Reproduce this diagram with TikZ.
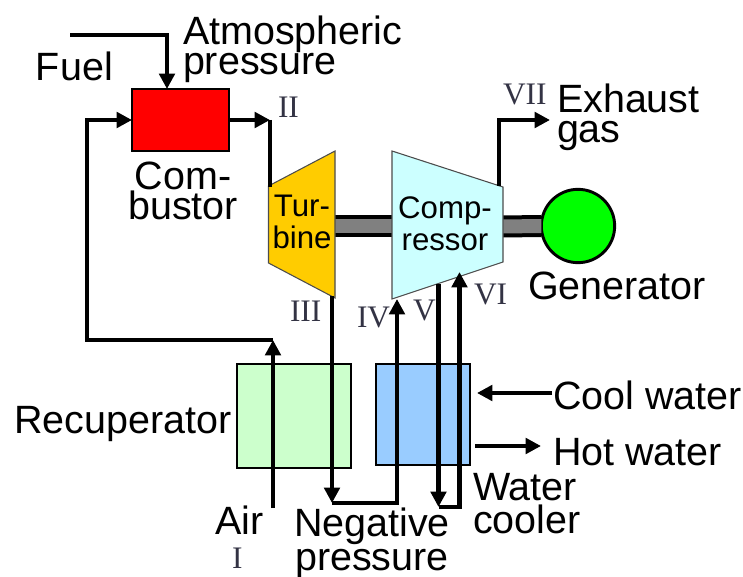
\documentclass[tikz,border=0pt]{standalone}
\usepackage{fontspec}
\setmainfont{Liberation Sans}
\newfontfamily\romanfont{Liberation Serif}
\usetikzlibrary{arrows.meta}
\tikzset{
  pipe/.style={line width=3.6pt,miter limit=10,draw=black},
  flow/.style={pipe,-{Triangle[length=11.5pt,width=11.5pt]}},
  unitbox/.style={draw=black,line width=1.5pt,inner sep=0pt,outer sep=0pt},
  machine/.style={draw=black!70,line width=0.8pt,line join=miter},
  shaftline/.style={draw=black,line width=3pt,double=shaftgray,double distance=10.5pt},
  big/.style={inner sep=0pt,outer sep=0pt,font=\fontsize{29.6}{23.2}\selectfont,text=black,align=left,anchor=base west},
  bigc/.style={big,align=center,anchor=base},
  small/.style={inner sep=0pt,outer sep=0pt,font=\fontsize{23.4}{24.4}\selectfont,text=black,align=center,anchor=base},
  state/.style={inner sep=0pt,outer sep=0pt,font=\romanfont\fontsize{23.5}{24}\selectfont,text=statecol,anchor=base west},
}
\definecolor{shaftgray}{HTML}{808080}
\definecolor{statecol}{HTML}{333344}
\definecolor{turbcol}{HTML}{FFCC00}
\definecolor{compcol}{HTML}{CCFFFF}
\definecolor{recol}{HTML}{CCFFCC}
\definecolor{coolcol}{HTML}{99CCFF}
\begin{document}
\begin{tikzpicture}[x=0.75pt,y=-0.75pt]
\useasboundingbox (0,0) rectangle (743,577);
% named points
\coordinate (tTL) at (268.5,186);
\coordinate (tTR) at (335,151);
\coordinate (tBR) at (335,298);
\coordinate (tBL) at (268.5,263);
\coordinate (cTL) at (392,151);
\coordinate (cTR) at (503,187);
\coordinate (cBR) at (503,262);
\coordinate (cBL) at (392,299);
\coordinate (tR) at (335,226.5);
\coordinate (cL) at (392,226.5);
\coordinate (cR) at (503,226.5);
\coordinate (fuelstart) at (70,35);
\coordinate (fuelcorner) at (167,35);
\coordinate (fuelend) at (167,89);
\coordinate (junctionII) at (270,120);
\coordinate (turbIn) at (270,187);
\coordinate (airstart) at (273,508);
\coordinate (airtop) at (273,340);
\coordinate (leftcorner) at (87,340);
\coordinate (leftup) at (87,120);
\coordinate (turbOut) at (332,296);
\coordinate (low1) at (332,503);
\coordinate (low2) at (397,503);
\coordinate (compIn) at (397,299);
\coordinate (compOut) at (438.5,284);
\coordinate (low3) at (438.5,507);
\coordinate (low4) at (459.5,507);
\coordinate (compIn2) at (459.5,272);
\coordinate (exStart) at (499,186);
\coordinate (exCorner) at (499,120);
\coordinate (exEnd) at (550,120);
\coordinate (cwStart) at (552,393);
\coordinate (cwEnd) at (477,393);
\coordinate (hwStart) at (475,446);
\coordinate (hwEnd) at (541,446);
% boxes
\node[unitbox,fill=red,minimum width=72.75pt,minimum height=46.5pt] (comb) at (180.5,120) {};
\node[unitbox,fill=recol,minimum width=85.5pt,minimum height=78pt] (recup) at (294,416) {};
\node[unitbox,fill=coolcol,minimum width=70.5pt,minimum height=75.75pt] (cooler) at (423,414.5) {};
% shafts
\node[circle,draw=black,line width=2.2pt,fill=green,inner sep=0pt,minimum size=55pt,outer sep=0pt] (gen) at (578,226) {};
\draw[shaftline] (tR) -- (cL);
\draw[shaftline] (cR) -- (gen.west);
% turbine and compressor
\draw[machine,fill=turbcol] (tTL) -- (tTR) -- (tBR) -- (tBL) -- cycle;
\draw[machine,fill=compcol] (cTL) -- (cTR) -- (cBR) -- (cBL) -- cycle;
% connectors
\draw[flow] (fuelstart) -- (fuelcorner) -- (fuelend);
\draw[flow] (airtop) -- (leftcorner) -- (leftup) -- (comb.west);
\draw[flow] (comb.east) -- (junctionII);
\draw[pipe] (junctionII) -- (turbIn);
\draw[flow] (airstart) -- (airtop);
\draw[flow] (turbOut) -- (low1);
\draw[flow] (low1) -- (low2) -- (compIn);
\draw[flow] (compOut) -- (low3);
\draw[flow] (low3) -- (low4) -- (compIn2);
\draw[flow] (exStart) -- (exCorner) -- (exEnd);
\draw[flow] (cwStart) -- (cwEnd);
\draw[flow] (hwStart) -- (hwEnd);
% texts
\node[big] (fuel) at (36,81) {Fuel};
\node[big] (atm) at (183,75) {Atmospheric\\pressure};
\node[bigc] (combT) at (183,220) {Com-\\bustor};
\node[small] (turbT) at (302,249) {Tur-\\bine};
\node[small] (compT) at (445,251) {Comp-\\ressor};
\node[big] (exh) at (557,143) {Exhaust\\gas};
\node[big] (genT) at (528,300) {Generator};
\node[big] (recT) at (14,433) {Recuperator};
\node[big] (cw) at (553,410) {Cool water};
\node[big] (hw) at (553,465) {Hot water};
\node[big] (wc) at (473,533) {Water\\[1pt]cooler};
\node[big] (air) at (215,534) {Air};
\node[bigc] (neg) at (372,570) {Negative\\[2pt]pressure};
\node[state] (sI) at (232,568) {I};
\node[state] (sII) at (278,118) {II};
\node[state] (sIII) at (290,322) {III};
\node[state] (sIV) at (357,328) {IV};
\node[state] (sV) at (413,321) {V};
\node[state] (sVI) at (474,305) {VI};
\node[state] (sVII) at (503,105) {VII};
\end{tikzpicture}
\end{document}
